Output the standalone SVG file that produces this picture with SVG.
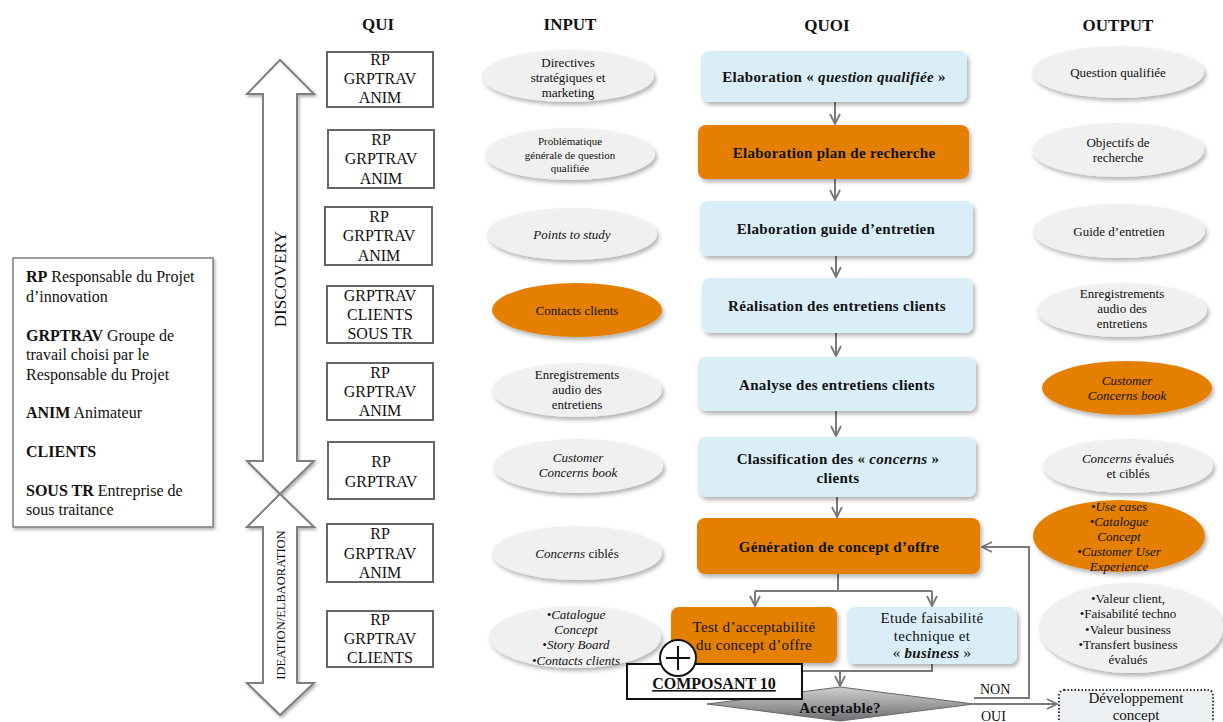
<svg xmlns="http://www.w3.org/2000/svg" width="1223" height="722" viewBox="0 0 1223 722">
<defs>
<filter id="sh" x="-10%" y="-15%" width="125%" height="150%"><feDropShadow dx="2" dy="3" stdDeviation="2" flood-color="#000" flood-opacity="0.3"/></filter>
<filter id="sh2" x="-10%" y="-10%" width="125%" height="130%"><feDropShadow dx="1.5" dy="2" stdDeviation="1.5" flood-color="#000" flood-opacity="0.3"/></filter>
<linearGradient id="dg" x1="0" y1="0" x2="0" y2="1"><stop offset="0" stop-color="#d0d0d2"/><stop offset="1" stop-color="#6e6e72"/></linearGradient>
<marker id="v" viewBox="0 0 12 12" refX="11" refY="6" markerWidth="12" markerHeight="12" markerUnits="userSpaceOnUse" orient="auto"><path d="M1,1 L11,6 L1,11" fill="none" stroke="#777" stroke-width="1.8"/></marker>
</defs>
<style>
text{font-family:"Liberation Serif","Times New Roman",serif;fill:#111}
.h{font-size:17px;font-weight:bold;text-anchor:middle}
.lg{font-size:16px}
.q{font-size:16px;text-anchor:middle}
.e{font-size:13px;text-anchor:middle}
.s{font-size:11px;text-anchor:middle}
.b{font-size:15px;font-weight:bold;text-anchor:middle;letter-spacing:0.3px}
.r{font-size:15px;text-anchor:middle;letter-spacing:0.3px}
.qbox{fill:#fff;stroke:#666;stroke-width:2}
.ell{fill:#f0f0f0;filter:url(#sh)}
.or{fill:#e47f00}
.lb{fill:#daeef8}
.bx{filter:url(#sh)}
.big{fill:#fff;stroke:#7f7f7f;stroke-width:2;filter:url(#sh2)}
.cn{fill:none;stroke:#7a7a7a;stroke-width:2}
</style>

<g id="headers">
<text class="h" x="378" y="30">QUI</text>
<text class="h" x="570" y="30">INPUT</text>
<text class="h" x="827" y="31">QUOI</text>
<text class="h" x="1118" y="31">OUTPUT</text>
</g>

<g id="legend">
<rect x="13" y="258" width="200" height="269" fill="#fff" stroke="#7f7f7f" stroke-width="1.5" filter="url(#sh2)"/>
<text class="lg" x="26" y="282"><tspan font-weight="bold">RP</tspan> Responsable du Projet</text>
<text class="lg" x="26" y="302">d’innovation</text>
<text class="lg" x="26" y="341"><tspan font-weight="bold">GRPTRAV</tspan> Groupe de</text>
<text class="lg" x="26" y="360">travail choisi par le</text>
<text class="lg" x="26" y="380">Responsable du Projet</text>
<text class="lg" x="26" y="418"><tspan font-weight="bold">ANIM</tspan> Animateur</text>
<text class="lg" x="26" y="457" font-weight="bold">CLIENTS</text>
<text class="lg" x="26" y="496"><tspan font-weight="bold">SOUS TR</tspan> Entreprise de</text>
<text class="lg" x="26" y="515">sous traitance</text>
</g>

<g id="phase-discovery">
<polygon class="big" points="280,60 314,94 297,94 297,461 314,461 280,494 247,461 263,461 263,94 247,94"/>
<text transform="translate(286,279) rotate(-90)" font-size="17" text-anchor="middle">DISCOVERY</text>
</g>
<g id="phase-ideation">
<polygon class="big" points="280,494 314,527 297,527 297,683 314,683 280,715 247,683 263,683 263,527 247,527"/>
<text transform="translate(285,605) rotate(-90)" font-size="12.5" text-anchor="middle">IDEATION/ELBAORATION</text>
</g>

<g id="qui">
<g id="qui1"><rect class="qbox" x="327" y="52" width="106" height="55"/><text class="q" x="380" y="65">RP</text><text class="q" x="380" y="84">GRPTRAV</text><text class="q" x="380" y="103">ANIM</text></g>
<g id="qui2"><rect class="qbox" x="328" y="130" width="106" height="58"/><text class="q" x="381" y="145">RP</text><text class="q" x="381" y="164">GRPTRAV</text><text class="q" x="381" y="184">ANIM</text></g>
<g id="qui3"><rect class="qbox" x="325" y="207" width="107" height="58"/><text class="q" x="379" y="222">RP</text><text class="q" x="379" y="241">GRPTRAV</text><text class="q" x="379" y="261">ANIM</text></g>
<g id="qui4"><rect class="qbox" x="327" y="286" width="106" height="57"/><text class="q" x="380" y="301">GRPTRAV</text><text class="q" x="380" y="320">CLIENTS</text><text class="q" x="380" y="339">SOUS TR</text></g>
<g id="qui5"><rect class="qbox" x="327" y="363" width="106" height="57"/><text class="q" x="380" y="378">RP</text><text class="q" x="380" y="397">GRPTRAV</text><text class="q" x="380" y="416">ANIM</text></g>
<g id="qui6"><rect class="qbox" x="328" y="442" width="106" height="57"/><text class="q" x="381" y="467">RP</text><text class="q" x="381" y="487">GRPTRAV</text></g>
<g id="qui7"><rect class="qbox" x="327" y="524" width="106" height="58"/><text class="q" x="380" y="539">RP</text><text class="q" x="380" y="559">GRPTRAV</text><text class="q" x="380" y="578">ANIM</text></g>
<g id="qui8"><rect class="qbox" x="327" y="611" width="106" height="56"/><text class="q" x="380" y="625">RP</text><text class="q" x="380" y="644">GRPTRAV</text><text class="q" x="380" y="663">CLIENTS</text></g>
</g>

<g id="input">
<g id="in1"><ellipse class="ell" cx="568" cy="76" rx="86" ry="26"/><text class="e" x="568" y="67">Directives</text><text class="e" x="568" y="82">stratégiques et</text><text class="e" x="568" y="97">marketing</text></g>
<g id="in2"><ellipse class="ell" cx="570" cy="154" rx="85" ry="26"/><text class="s" x="570" y="145">Problématique</text><text class="s" x="570" y="159">générale de question</text><text class="s" x="570" y="172">qualifiée</text></g>
<g id="in3"><ellipse class="ell" cx="572" cy="234" rx="85" ry="26"/><text class="e" x="572" y="239" font-style="italic">Points to study</text></g>
<g id="in4"><ellipse class="ell or" cx="577" cy="310" rx="85" ry="27"/><text class="e" x="577" y="315">Contacts clients</text></g>
<g id="in5"><ellipse class="ell" cx="577" cy="390" rx="85" ry="27"/><text class="e" x="577" y="379">Enregistrements</text><text class="e" x="577" y="394">audio des</text><text class="e" x="577" y="409">entretiens</text></g>
<g id="in6"><ellipse class="ell" cx="578" cy="466" rx="85" ry="27"/><text class="e" x="578" y="462" font-style="italic">Customer</text><text class="e" x="578" y="477" font-style="italic">Concerns book</text></g>
<g id="in7"><ellipse class="ell" cx="577" cy="553" rx="85" ry="27"/><text class="e" x="577" y="558"><tspan font-style="italic">Concerns</tspan> ciblés</text></g>
<g id="in8"><ellipse class="ell" cx="575" cy="637" rx="86" ry="31"/><text class="e" x="576" y="619" font-style="italic">•Catalogue</text><text class="e" x="576" y="634" font-style="italic">Concept</text><text class="e" x="576" y="649" font-style="italic">•Story Board</text><text class="e" x="576" y="665" font-style="italic">•Contacts clients</text></g>
</g>

<g id="output">
<g id="out1"><ellipse class="ell" cx="1118" cy="72" rx="86" ry="26"/><text class="e" x="1118" y="77">Question qualifiée</text></g>
<g id="out2"><ellipse class="ell" cx="1118" cy="150" rx="86" ry="27"/><text class="e" x="1118" y="147">Objectifs de</text><text class="e" x="1118" y="162">recherche</text></g>
<g id="out3"><ellipse class="ell" cx="1119" cy="231" rx="86" ry="27"/><text class="e" x="1119" y="236">Guide d’entretien</text></g>
<g id="out4"><ellipse class="ell" cx="1122" cy="310" rx="85" ry="27"/><text class="e" x="1122" y="298">Enregistrements</text><text class="e" x="1122" y="313">audio des</text><text class="e" x="1122" y="328">entretiens</text></g>
<g id="out5"><ellipse class="ell or" cx="1127" cy="388" rx="85" ry="27"/><text class="e" x="1127" y="385" font-style="italic">Customer</text><text class="e" x="1127" y="400" font-style="italic">Concerns book</text></g>
<g id="out6"><ellipse class="ell" cx="1128" cy="466" rx="85" ry="27"/><text class="e" x="1128" y="463"><tspan font-style="italic">Concerns</tspan> évalués</text><text class="e" x="1128" y="478">et ciblés</text></g>
<g id="out7"><ellipse class="ell or" cx="1119" cy="536" rx="86" ry="36"/><text class="e" x="1119" y="511" font-style="italic">•Use cases</text><text class="e" x="1119" y="526" font-style="italic">•Catalogue</text><text class="e" x="1119" y="541" font-style="italic">Concept</text><text class="e" x="1119" y="556" font-style="italic">•Customer User</text><text class="e" x="1119" y="571" font-style="italic">Experience</text></g>
<g id="out8"><ellipse class="ell" cx="1131" cy="628" rx="92" ry="45"/><text class="e" x="1128" y="603">•Valeur client,</text><text class="e" x="1128" y="618">•Faisabilité techno</text><text class="e" x="1128" y="634">•Valeur business</text><text class="e" x="1128" y="649">•Transfert business</text><text class="e" x="1128" y="664">évalués</text></g>
</g>

<g id="connectors">
<path class="cn" d="M835,102 V124" marker-end="url(#v)"/>
<path class="cn" d="M835,179 V200" marker-end="url(#v)"/>
<path class="cn" d="M836,256 V277" marker-end="url(#v)"/>
<path class="cn" d="M836,333 V356" marker-end="url(#v)"/>
<path class="cn" d="M836,411 V436" marker-end="url(#v)"/>
<path class="cn" d="M837,497 V517" marker-end="url(#v)"/>
<path class="cn" d="M838,574 V591"/>
<path class="cn" d="M755,591 H932"/>
<path class="cn" d="M755,591 V606" marker-end="url(#v)"/>
<path class="cn" d="M932,591 V606" marker-end="url(#v)"/>
<path class="cn" d="M755,663 V671 H932 V664"/>
<path class="cn" d="M840,671 V686" marker-end="url(#v)"/>
<path class="cn" d="M974,698 H1029 V547 H982" marker-end="url(#v)"/>
<path class="cn" d="M974,704 H1057" marker-end="url(#v)"/>
</g>

<g id="quoi">
<g id="p1"><rect class="lb bx" x="701" y="51" width="266" height="51" rx="8"/><text class="b" x="834" y="82">Elaboration « <tspan font-style="italic">question qualifiée</tspan> »</text></g>
<g id="p2"><rect class="or bx" x="698" y="125" width="271" height="54" rx="8"/><text class="b" x="834" y="158">Elaboration plan de recherche</text></g>
<g id="p3"><rect class="lb bx" x="700" y="201" width="273" height="55" rx="8"/><text class="b" x="836" y="234">Elaboration guide d’entretien</text></g>
<g id="p4"><rect class="lb bx" x="702" y="278" width="271" height="55" rx="8"/><text class="b" x="837" y="311">Réalisation des entretiens clients</text></g>
<g id="p5"><rect class="lb bx" x="698" y="357" width="278" height="54" rx="8"/><text class="b" x="837" y="390">Analyse des entretiens clients</text></g>
<g id="p6"><rect class="lb bx" x="698" y="437" width="278" height="60" rx="8"/><text class="b" x="838" y="464">Classification des « <tspan font-style="italic">concerns</tspan> »</text><text class="b" x="838" y="483">clients</text></g>
<g id="p7"><rect class="or bx" x="697" y="518" width="283" height="56" rx="8"/><text class="b" x="839" y="552">Génération de concept d’offre</text></g>
<g id="p8"><rect class="or bx" x="671" y="607" width="166" height="56" rx="8"/><text class="r" x="754" y="632">Test d’acceptabilité</text><text class="r" x="754" y="650">du concept d’offre</text></g>
<g id="p9"><rect class="lb bx" x="847" y="607" width="170" height="57" rx="8"/><text class="r" x="932" y="623">Etude faisabilité</text><text class="r" x="932" y="641">technique et</text><text class="r" x="932" y="658">« <tspan font-weight="bold" font-style="italic">business</tspan> »</text></g>
<g id="decision"><polygon points="707,704 840,687 974,704 840,721" fill="url(#dg)" stroke="#666" stroke-width="1"/><text class="b" x="840" y="713">Acceptable?</text></g>
<g id="dev"><rect x="1059" y="690" width="154" height="42" rx="5" fill="#edf0f2" stroke="#333" stroke-width="2" stroke-dasharray="1.5 2"/><text font-size="15" text-anchor="middle" x="1136" y="703">Développement</text><text font-size="15" text-anchor="middle" x="1136" y="720">concept</text></g>
<text font-size="14" x="980" y="694">NON</text>
<text font-size="14" x="981" y="721">OUI</text>
</g>

<g id="composant">
<rect x="627" y="664" width="175" height="35" fill="#fff" stroke="#111" stroke-width="2"/>
<text x="714" y="689" font-size="16" font-weight="bold" text-anchor="middle" text-decoration="underline">COMPOSANT 10</text>
<circle cx="678" cy="658" r="18" fill="#fff" stroke="#111" stroke-width="2"/>
<path d="M666,658 H690 M678,646 V670" stroke="#111" stroke-width="2"/>
</g>
</svg>
